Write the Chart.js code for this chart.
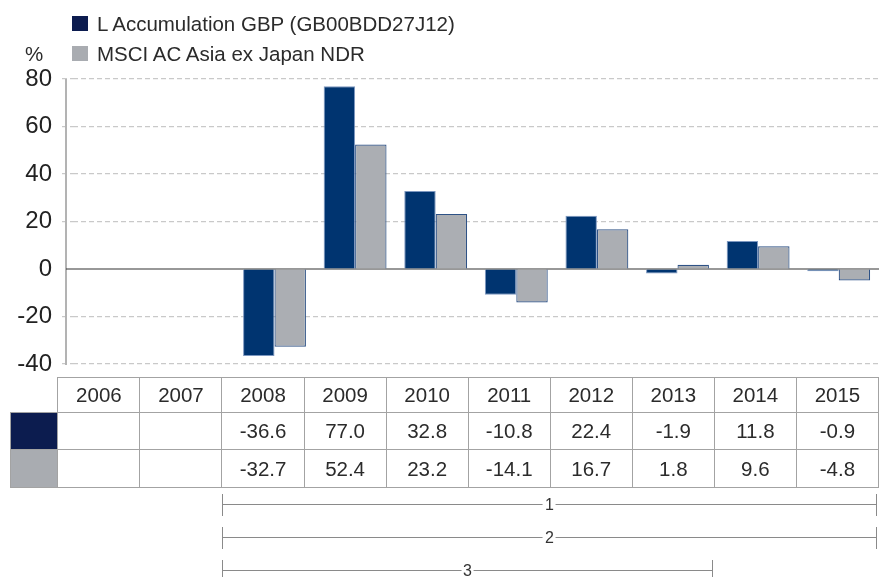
<!DOCTYPE html>
<html>
<head>
<meta charset="utf-8">
<script src="https://cdn.jsdelivr.net/npm/chart.js@4.4.1/dist/chart.umd.min.js"></script>
<style>
  html, body { margin: 0; padding: 0; background: #fff; }
  #wrap { position: relative; width: 879px; height: 577px; overflow: hidden; font-family: "Liberation Sans", Arial, sans-serif; color: #2b2b2b; }
  #c { position: absolute; left: 0; top: 0; }
  .sw { position: absolute; width: 16px; height: 15px; }
  .lt { position: absolute; font-size: 20.5px; line-height: 22px; white-space: nowrap; }
  table { position: absolute; left: 10px; top: 377px; border-collapse: collapse; table-layout: fixed; }
  td { border: 1.5px solid #a3a3a3; text-align: center; font-size: 20.5px; padding: 0; color: #2b2b2b; }
  .rl { position: absolute; height: 0; border-top: 1.5px solid #8a8a8a; }
  .rt { position: absolute; width: 0; height: 22px; border-left: 1.5px solid #8a8a8a; }
  .rlab { position: absolute; font-size: 16px; line-height: 16px; background: #fff; padding: 0 2px; transform: translate(-50%, -50%); color: #333; }
</style>
</head>
<body>
<div id="wrap">
  <canvas id="c" width="879" height="577"></canvas>
</div>
<script>
const categories = ['2006','2007','2008','2009','2010','2011','2012','2013','2014','2015'];
const seriesNames = ['L Accumulation GBP (GB00BDD27J12)', 'MSCI AC Asia ex Japan NDR'];
const fundValues = [null, null, -36.6, 77.0, 32.8, -10.8, 22.4, -1.9, 11.8, -0.9];
const indexValues = [null, null, -32.7, 52.4, 23.2, -14.1, 16.7, 1.8, 9.6, -4.8];
const yTicks = [80, 60, 40, 20, 0, -20, -40];
const rangeLabels = ['1', '2', '3'];
const rangeStart = ['2008', '2008', '2008'];
const rangeEnd = ['2015', '2015', '2013'];

const barDark = '#003470';
const barGray = '#abaeb3';
const swDark = '#0c1c4f';
const swGray = '#a9acb1';

const wrap = document.getElementById('wrap');

function addDiv(cls, styles, text) {
  const d = document.createElement('div');
  d.className = cls;
  Object.assign(d.style, styles);
  if (text !== undefined) d.textContent = text;
  wrap.appendChild(d);
  return d;
}
addDiv('sw', {left: '72px', top: '16px', background: swDark});
addDiv('lt', {left: '97px', top: '13px'}, seriesNames[0]);
addDiv('sw', {left: '72px', top: '46px', background: swGray});
addDiv('lt', {left: '97px', top: '43px'}, seriesNames[1]);
addDiv('lt', {left: '25px', top: '43px'}, '%');

const axisPlugin = {
  id: 'axisPlugin',
  beforeDatasetsDraw(chart) {
    const ctx = chart.ctx, y = chart.scales.y, a = chart.chartArea;
    ctx.save();
    ctx.strokeStyle = '#b3b3b3';
    ctx.lineWidth = 2;
    ctx.beginPath();
    ctx.moveTo(66, y.getPixelForValue(80));
    ctx.lineTo(66, y.getPixelForValue(-40) + 1);
    ctx.stroke();
    ctx.strokeStyle = '#333';
    ctx.lineWidth = 1.2;
    const z = y.getPixelForValue(0);
    ctx.beginPath();
    ctx.moveTo(66, z);
    ctx.lineTo(a.right, z);
    ctx.stroke();
    ctx.restore();
  }
};

new Chart(document.getElementById('c'), {
  type: 'bar',
  data: {
    labels: categories,
    datasets: [
      { label: seriesNames[0], data: fundValues, backgroundColor: barDark, borderColor: 'rgba(110,140,185,0.9)', borderWidth: 1 },
      { label: seriesNames[1], data: indexValues, backgroundColor: barGray, borderColor: '#2e5286', borderWidth: 1.2 }
    ]
  },
  options: {
    responsive: false,
    animation: false,
    devicePixelRatio: 1,
    layout: { padding: { left: 0, right: 0, top: 79, bottom: 213 } },
    plugins: { legend: { display: false }, tooltip: { enabled: false } },
    datasets: { bar: { categoryPercentage: 0.78, barPercentage: 1.0 } },
    scales: {
      x: { display: false },
      y: {
        min: -40, max: 80,
        afterFit(s) { s.width = 73; },
        afterBuildTicks(s) { s.ticks = yTicks.map(v => ({ value: v })); },
        ticks: { font: { family: '"Liberation Sans", Arial, sans-serif', size: 24 }, color: '#222', padding: 10 },
        grid: {
          color: ctx => (ctx.tick && ctx.tick.value === 0) ? 'rgba(0,0,0,0)' : '#c9c9c9',
          tickColor: ctx => (ctx.tick && ctx.tick.value === 0) ? 'rgba(0,0,0,0)' : '#c9c9c9',
          lineWidth: 1.2,
          tickLength: 11,
          tickBorderDash: [5, 3]
        },
        border: { display: false, dash: [5, 3] }
      }
    }
  },
  plugins: [axisPlugin]
});

const colW = 81.9, firstW = 48, tableLeft = 10;
const table = document.createElement('table');
const rowsH = [35, 37, 38];
function mkRow(h) { const tr = document.createElement('tr'); tr.style.height = h + 'px'; table.appendChild(tr); return tr; }
const hdr = mkRow(rowsH[0]);
const corner = document.createElement('td');
corner.style.border = 'none';
corner.style.width = firstW + 'px';
hdr.appendChild(corner);
categories.forEach(c => { const td = document.createElement('td'); td.style.width = colW + 'px'; td.textContent = c; hdr.appendChild(td); });
[[fundValues, swDark], [indexValues, swGray]].forEach(([vals, col], i) => {
  const tr = mkRow(rowsH[i + 1]);
  const sw = document.createElement('td'); sw.style.background = col; tr.appendChild(sw);
  vals.forEach(v => { const td = document.createElement('td'); td.textContent = v === null ? '' : v.toFixed(1); tr.appendChild(td); });
});
wrap.appendChild(table);

const rangeY = [504, 537, 570];
rangeLabels.forEach((lab, i) => {
  const x0 = tableLeft + firstW + categories.indexOf(rangeStart[i]) * colW;
  const x1 = tableLeft + firstW + (categories.indexOf(rangeEnd[i]) + 1) * colW;
  const y = rangeY[i];
  addDiv('rl', {left: x0 + 'px', top: y + 'px', width: (x1 - x0) + 'px'});
  addDiv('rt', {left: x0 + 'px', top: (y - 10) + 'px'});
  addDiv('rt', {left: (x1 - 1) + 'px', top: (y - 10) + 'px'});
  addDiv('rlab', {left: ((x0 + x1) / 2) + 'px', top: (y + 1) + 'px'}, lab);
});
</script>
</body>
</html>
